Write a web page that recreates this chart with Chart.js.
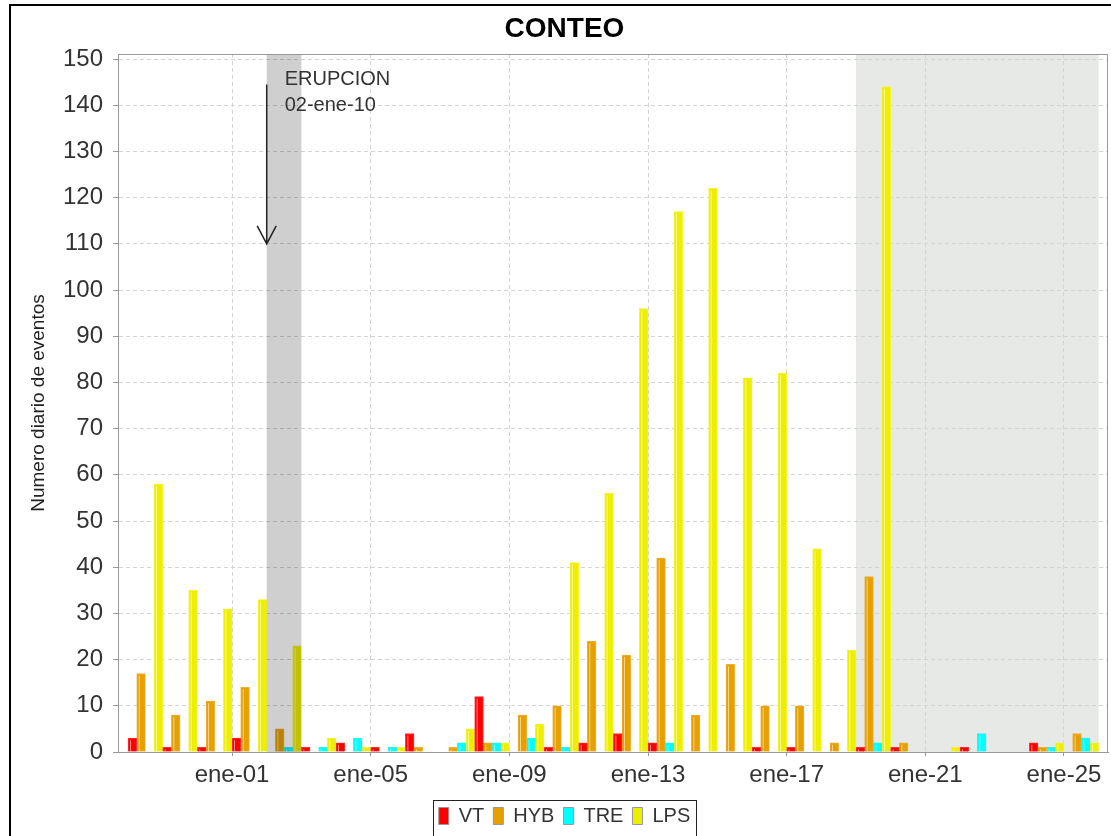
<!DOCTYPE html>
<html>
<head>
<meta charset="utf-8">
<script src="https://cdn.jsdelivr.net/npm/chart.js@4.4.1/dist/chart.umd.min.js"></script>
<style>
    html, body { margin: 0; padding: 0; background: #fff; }
    #wrap { width: 1111px; height: 836px; }
</style>
</head>
<body>
<div id="wrap"><canvas id="conteo"></canvas></div>
<script>
// dias del conteo (un grupo de 4 barras por dia)
var dias = ['dic-29', 'dic-30', 'dic-31', 'ene-01', 'ene-02', 'ene-03', 'ene-04', 'ene-05',
    'ene-06', 'ene-07', 'ene-08', 'ene-09', 'ene-10', 'ene-11', 'ene-12', 'ene-13',
    'ene-14', 'ene-15', 'ene-16', 'ene-17', 'ene-18', 'ene-19', 'ene-20', 'ene-21',
    'ene-22', 'ene-23', 'ene-24', 'ene-25'];

var vt  = [3, 1, 1, 3, 0, 1, 2, 1, 4, 0, 12, 0, 1, 2, 4, 2, 0, 0, 1, 1, 0, 1, 1, 0, 1, 0, 2, 0];
var hyb = [17, 8, 11, 14, 5, 0, 0, 0, 1, 1, 2, 8, 10, 24, 21, 42, 8, 19, 10, 10, 2, 38, 2, 0, 0, 0, 1, 4];
var tre = [0, 0, 0, 0, 1, 1, 3, 1, 0, 2, 2, 3, 1, 0, 0, 2, 0, 0, 0, 0, 0, 2, 0, 0, 4, 0, 1, 3];
var lps = [58, 35, 31, 33, 23, 3, 1, 1, 0, 5, 2, 6, 41, 56, 96, 117, 122, 81, 82, 44, 22, 144, 0, 1, 0, 0, 2, 2];

var etiquetasX = ['ene-01', 'ene-05', 'ene-09', 'ene-13', 'ene-17', 'ene-21', 'ene-25'];

var diaErupcion = 'ene-02';
var zonaClaraDesde = 'ene-19';

function serie(valores) {
    // cada barra se centra en la mitad del dia
    return valores.map((v, i) => ({ x: i + 0.5, y: v }));
}

var fuente = '"Liberation Sans", Arial, sans-serif';

var marco = {
    id: 'marco',
    beforeDraw(chart) {
        var ctx = chart.ctx, area = chart.chartArea, xs = chart.scales.x;
        ctx.save();
        ctx.fillStyle = '#fff';
        ctx.fillRect(0, 0, chart.width, chart.height);
        ctx.strokeStyle = '#000';
        ctx.lineWidth = 2;
        ctx.strokeRect(10, 5, chart.width + 10, chart.height + 10);
        // zona gris clara del final
        var x0 = xs.getPixelForValue(dias.indexOf(zonaClaraDesde));
        var x1 = xs.getPixelForValue(dias.length);
        ctx.fillStyle = '#e6e9e6';
        ctx.fillRect(x0, area.top, x1 - x0, area.bottom - area.top);
        ctx.restore();
    },
    afterDatasetsDraw(chart) {
        var ctx = chart.ctx, area = chart.chartArea, xs = chart.scales.x, ys = chart.scales.y;
        ctx.save();
        // brillo de las barras (estilo degradado)
        chart.data.datasets.forEach(function (ds, i) {
            chart.getDatasetMeta(i).data.forEach(function (bar) {
                var h = bar.base - bar.y;
                if (h < 4) return;
                ctx.fillStyle = 'rgba(255,255,255,0.55)';
                ctx.fillRect(bar.x - bar.width / 2 + 2, bar.y + 2, 1, h - 2);
            });
        });

        // dia de la erupcion
        var e = dias.indexOf(diaErupcion);
        var x0 = xs.getPixelForValue(e), x1 = xs.getPixelForValue(e + 1);
        ctx.fillStyle = 'rgba(0,0,0,0.19)';
        ctx.fillRect(x0, area.top, x1 - x0, area.bottom - area.top);

        ctx.strokeStyle = '#999';
        ctx.lineWidth = 1;
        ctx.strokeRect(area.left + 0.5, area.top + 0.5, area.right - area.left - 1, area.bottom - area.top);

        // flecha y texto
        var y1 = ys.getPixelForValue(144.5), y2 = ys.getPixelForValue(110);
        ctx.strokeStyle = '#222';
        ctx.lineWidth = 1.5;
        ctx.beginPath();
        ctx.moveTo(x0, y1);
        ctx.lineTo(x0, y2);
        ctx.moveTo(x0 - 9.5, y2 - 18);
        ctx.lineTo(x0, y2);
        ctx.lineTo(x0 + 9.5, y2 - 18);
        ctx.stroke();
        ctx.fillStyle = '#333';
        ctx.font = '20px ' + fuente;
        ctx.textBaseline = 'alphabetic';
        ctx.fillText('ERUPCION', x0 + 18, y1 + 1);
        ctx.fillText('02-ene-10', x0 + 18, y1 + 27);
        ctx.restore();
    },
    afterDraw(chart) {
        var ctx = chart.ctx, lg = chart.legend;
        if (!lg || !lg.legendHitBoxes.length) return;
        var hb = lg.legendHitBoxes;
        var left = hb[0].left - 6;
        var last = hb[hb.length - 1];
        var right = last.left + last.width + 6;
        ctx.save();
        ctx.strokeStyle = '#222';
        ctx.lineWidth = 1;
        ctx.strokeRect(Math.round(left) + 0.5, Math.round(hb[0].top - 6) + 0.5, Math.round(right - left), 60);
        ctx.restore();
    }
};

var ctx = document.getElementById('conteo').getContext('2d');
var conteoChart = new Chart(ctx, {
    type: 'bar',
    data: {
        datasets: [{
            label: 'VT',
            data: serie(vt),
            backgroundColor: '#ff0000',
            borderColor: '#ff3030',
            borderWidth: 1
        }, {
            label: 'HYB',
            data: serie(hyb),
            backgroundColor: '#e6a000',
            borderColor: '#f0b030',
            borderWidth: 1
        }, {
            label: 'TRE',
            data: serie(tre),
            backgroundColor: '#00ffff',
            borderColor: '#30f0f0',
            borderWidth: 1
        }, {
            label: 'LPS',
            data: serie(lps),
            backgroundColor: '#eeee00',
            borderColor: '#f4f430',
            borderWidth: 1
        }]
    },
    options: {
        responsive: true,
        maintainAspectRatio: false,
        animation: false,
        categoryPercentage: 1,
        barPercentage: 1,
        layout: {
            padding: { top: 10, left: 21, right: 3, bottom: 0 }
        },
        plugins: {
            title: {
                display: true,
                text: 'CONTEO',
                color: '#000',
                font: { family: fuente, size: 28, weight: 'bold' },
                padding: { top: 2, bottom: 8.4 }
            },
            legend: {
                position: 'bottom',
                labels: {
                    boxWidth: 10,
                    boxHeight: 17,
                    padding: 9,
                    color: '#333',
                    font: { family: fuente, size: 20 },
                    generateLabels: function (chart) {
                        return Chart.defaults.plugins.legend.labels.generateLabels(chart).map(function (it) {
                            it.strokeStyle = '#999';
                            it.lineWidth = 1;
                            return it;
                        });
                    }
                }
            },
            tooltip: { enabled: false }
        },
        scales: {
            x: {
                type: 'linear',
                min: -0.29,
                max: 28.27,
                offset: false,
                afterBuildTicks: function (s) {
                    s.ticks = etiquetasX.map(l => ({ value: dias.indexOf(l) }));
                },
                afterFit: function (s) { s.height = 45; },
                ticks: {
                    autoSkip: false,
                    maxRotation: 0,
                    padding: 5,
                    color: '#333',
                    font: { family: fuente, size: 24 },
                    callback: function (v) { return dias[v]; }
                },
                grid: {
                    offset: false,
                    color: '#d4d4d4',
                    tickLength: 4,
                    tickColor: '#999',
                    tickBorderDash: []
                },
                border: { color: '#999', dash: [4, 3] }
            },
            y: {
                min: 0,
                max: 151.1,
                afterFit: function (s) { s.width = 97; },
                ticks: {
                    stepSize: 10,
                    includeBounds: false,
                    padding: 10,
                    color: '#333',
                    font: { family: fuente, size: 24 }
                },
                grid: {
                    color: '#d4d4d4',
                    tickLength: 5,
                    tickColor: '#999',
                    tickBorderDash: []
                },
                border: { color: '#999', dash: [4, 3] },
                title: {
                    display: true,
                    text: 'Numero diario de eventos',
                    color: '#222',
                    font: { family: fuente, size: 19 },
                    padding: { top: 6, bottom: 4 }
                }
            }
        }
    },
    plugins: [marco]
});
</script>
</body>
</html>
